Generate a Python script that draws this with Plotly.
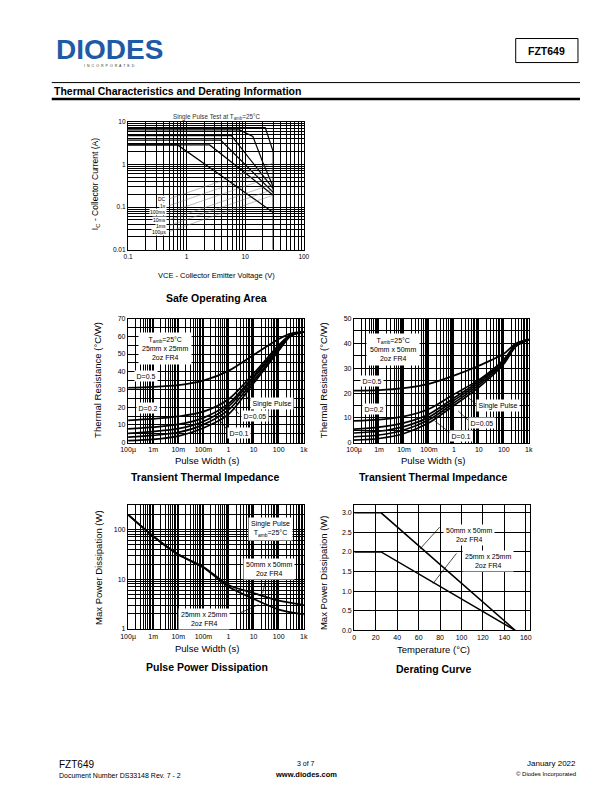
import math
import plotly.graph_objects as go

W, H = 612, 792
FONT = "Liberation Sans, Arial, Helvetica, sans-serif"

# ================= DATA =================
# Safe Operating Area (VCE in V, IC in A)
SOA_DC_V = [0.1, 0.7, 30]
SOA_DC_I = [2.85, 2.85, 0.075]
SOA_1S_V = [0.1, 2.47, 30]
SOA_1S_I = [2.85, 2.85, 0.19]
SOA_100MS_V = [0.1, 3.8, 30]
SOA_100MS_I = [3.7, 3.7, 0.22]
SOA_10MS_V = [0.1, 5.8, 30]
SOA_10MS_I = [4.7, 4.7, 0.27]
SOA_1MS_V = [0.1, 8, 13.5, 20, 30]
SOA_1MS_I = [6.4, 6.4, 4.5, 1.1, 0.3]
SOA_100US_V = [0.1, 22, 30, 30]
SOA_100US_I = [7.2, 7.2, 2.0, 0.01]
SOA_LABELS = ["DC", "1s", "100ms", "10ms", "1ms", "100µs"]
SOA_X_TICKS = [0.1, 1, 10, 100]
SOA_X_TEXT = ["0.1", "1", "10", "100"]
SOA_Y_TICKS = [0.01, 0.1, 1, 10]
SOA_Y_TEXT = ["0.01", "0.1", "1", "10"]

# Transient thermal impedance, pulse width (s)
PW = [1e-4, 1e-3, 1e-2, 1e-1, 1, 10, 100, 300, 1000]
PW_TICKS = [1e-4, 1e-3, 1e-2, 1e-1, 1, 10, 100, 1000]
PW_TEXT = ["100µ", "1m", "10m", "100m", "1", "10", "100", "1k"]
DUTY_NAMES = ["D=0.5", "D=0.2", "D=0.1", "D=0.05", "D=0.02", "Single Pulse"]

# 25mm x 25mm (°C/W)
ZTH25_D05 = [31, 31.5, 32.5, 35, 40.5, 49.5, 58.5, 61.5, 62.5]
ZTH25_D02 = [12.6, 13.4, 14.8, 17.5, 24.5, 39, 55, 61, 62.5]
ZTH25_D01 = [7.8, 8.8, 10.3, 14, 22, 37.5, 54, 60.8, 62.5]
ZTH25_D005 = [5.3, 6.3, 7.9, 12, 20.5, 36.5, 53.3, 60.6, 62.5]
ZTH25_D002 = [3.2, 4.1, 5.8, 10.2, 18.5, 35, 52.5, 60.4, 62.5]
ZTH25_SP = [1.2, 1.9, 3.7, 8.3, 16, 33.5, 51.8, 60.2, 62.5]

# 50mm x 50mm (°C/W)
ZTH50_D05 = [21, 21.2, 22, 23.7, 27, 31, 35.8, 40, 41.5]
ZTH50_D02 = [8.8, 9.3, 10.6, 13.6, 19.5, 25.3, 33.5, 39.5, 41.5]
ZTH50_D01 = [5.5, 6.3, 8.0, 11.5, 18, 24.7, 33.1, 39.3, 41.5]
ZTH50_D005 = [3.9, 4.6, 6.5, 10.3, 17, 24, 32.7, 39.1, 41.5]
ZTH50_D002 = [2.4, 3.1, 5.1, 9.2, 16, 23.2, 32.2, 38.9, 41.5]
ZTH50_SP = [1.0, 1.7, 3.7, 8.0, 15, 22.3, 31.7, 38.7, 41.5]

# Pulse power dissipation (W)
PPD_T = [1e-4, 1e-3, 1e-2, 1e-1, 1, 10, 100, 1000]
PPD_25 = [195, 72, 31, 17, 7.0, 4.0, 2.45, 1.95]
PPD_50 = [195, 72, 31, 17.5, 7.6, 5.25, 3.7, 3.05]
PPD_Y_TICKS = [1, 10, 100]
PPD_Y_TEXT = ["1", "10", "100"]

# Derating curve
DER_T = [0, 25, 150]
DER_50 = [3.0, 3.0, 0.0]
DER_25 = [2.0, 2.0, 0.0]

# ================= LAYOUT HELPERS =================
# page pixel positions (as measured on the reference) -> figure pixels,
# compensating the offset/scale seen when the page is photographed
OX, SX = 16.4, 0.973
OY, SY = 11.5, 0.990

def fx(px):
    return (px - OX) / SX

def fy(py):
    return (py - OY) / SY

def P(px, py):
    return fx(px) / W, 1 - fy(py) / H

annotations = []
shapes = []

def text(px, py, s, size=7, bold=False, xanchor="center", bg=None, angle=0,
         color="black", pad=1):
    x, y = P(px, py)
    a = dict(x=x, y=y, xref="paper", yref="paper",
             text=f"<b>{s}</b>" if bold else s, showarrow=False,
             xanchor=xanchor, yanchor="middle", textangle=angle,
             font=dict(family=FONT, size=size, color=color))
    if bg:
        a.update(bgcolor=bg, borderpad=pad)
    annotations.append(a)

def seg(px0, py0, px1, py1, width=0.8, color="black"):
    x0, y0 = P(px0, py0)
    x1, y1 = P(px1, py1)
    shapes.append(dict(type="line", xref="paper", yref="paper",
                       x0=x0, y0=y0, x1=x1, y1=y1,
                       line=dict(color=color, width=width)))

def rect(px0, py0, px1, py1, width=1):
    x0, y0 = P(px0, py1)
    x1, y1 = P(px1, py0)
    shapes.append(dict(type="rect", xref="paper", yref="paper",
                       x0=x0, y0=y0, x1=x1, y1=y1,
                       line=dict(color="black", width=width)))

def dom_x(a, b):
    return [fx(a) / W, fx(b) / W]

def dom_y(top, bottom):
    return [1 - fy(bottom) / H, 1 - fy(top) / H]

GRID = dict(showgrid=True, gridcolor="black", gridwidth=0.6,
            showline=True, mirror=True, linecolor="black", linewidth=1.4,
            ticks="", zeroline=False)

def log_axis(domain, rng, tv, tt, anchor, size=7):
    return dict(GRID, type="log", domain=domain, range=rng, tickmode="array",
                tickvals=tv, ticktext=tt, anchor=anchor,
                tickfont=dict(family=FONT, size=size),
                minor=dict(dtick="D1", showgrid=True, gridcolor="black",
                           gridwidth=0.5, ticks=""))

def lin_axis(domain, rng, dtick, anchor, minor=None, fmt=None, size=7):
    d = dict(GRID, type="linear", domain=domain, range=rng, dtick=dtick,
             tick0=0, anchor=anchor, tickfont=dict(family=FONT, size=size))
    if minor:
        d["minor"] = dict(dtick=minor, showgrid=True, gridcolor="black",
                          gridwidth=0.5, ticks="")
    if fmt:
        d["tickformat"] = fmt
    return d

fig = go.Figure()

def line(x, y, xa, ya, width=1.4, color="black", shape="linear", name=""):
    ln = dict(color=color, width=width, shape=shape)
    if shape == "spline":
        ln["smoothing"] = 0.8
    fig.add_trace(go.Scatter(x=x, y=y, xaxis=xa, yaxis=ya, mode="lines",
                             line=ln, hoverinfo="skip", name=name,
                             showlegend=False))

# ---------- Chart 1: SOA ----------
SOA_CURVES = [(SOA_DC_V, SOA_DC_I), (SOA_1S_V, SOA_1S_I),
              (SOA_100MS_V, SOA_100MS_I), (SOA_10MS_V, SOA_10MS_I),
              (SOA_1MS_V, SOA_1MS_I), (SOA_100US_V, SOA_100US_I)]
for (v, i), nm in zip(SOA_CURVES, SOA_LABELS):
    line(v, i, "x", "y", width=1.2, name=nm)

# label leaders (decorative callouts)
SOA_LABEL_PY = [198.3, 205, 211.7, 219.3, 225, 231]
SOA_LEADER_END_I = [1.07, 0.75, 0.52, 0.35, 0.26, 0.19]
for lpy, yend in zip(SOA_LABEL_PY, SOA_LEADER_END_I):
    ystart = 10 ** (1 - (lpy - 121) / 42.7)
    line([0.5, 30], [ystart, yend], "x", "y", width=0.5, color="#777777")
for lpy, lab in zip(SOA_LABEL_PY, SOA_LABELS):
    text(166.5, lpy, lab, size=5, xanchor="right", bg="white", pad=0)

# ---------- Chart 2 & 3: Transient thermal impedance ----------
Z25 = [ZTH25_D05, ZTH25_D02, ZTH25_D01, ZTH25_D005, ZTH25_D002, ZTH25_SP]
Z50 = [ZTH50_D05, ZTH50_D02, ZTH50_D01, ZTH50_D005, ZTH50_D002, ZTH50_SP]
for z, nm in zip(Z25, DUTY_NAMES):
    line(PW, z, "x2", "y2", width=1.7, shape="spline", name=nm)
for z, nm in zip(Z50, DUTY_NAMES):
    line(PW, z, "x3", "y3", width=1.7, shape="spline", name=nm)

# ---------- Chart 4: Pulse power ----------
line(PPD_T, PPD_50, "x4", "y4", width=1.8, shape="spline", name="50mm")
line(PPD_T, PPD_25, "x4", "y4", width=1.8, shape="spline", name="25mm")

# ---------- Chart 5: Derating ----------
line(DER_T, DER_50, "x5", "y5", width=1.5, name="50mm")
line(DER_T, DER_25, "x5", "y5", width=1.5, name="25mm")

# ================= AXES =================
layout_axes = dict(
    xaxis=log_axis(dom_x(128, 303), [-1, 2], SOA_X_TICKS, SOA_X_TEXT, "y", 6.5),
    yaxis=log_axis(dom_y(121, 249), [-2, 1], SOA_Y_TICKS, SOA_Y_TEXT, "x", 6.5),
    xaxis2=log_axis(dom_x(128, 303), [-4, 3], PW_TICKS, PW_TEXT, "y2"),
    yaxis2=lin_axis(dom_y(317.7, 441.7), [0, 70], 10, "x2", minor=5),
    xaxis3=log_axis(dom_x(353, 527), [-4, 3], PW_TICKS, PW_TEXT, "y3"),
    yaxis3=lin_axis(dom_y(317.7, 441.7), [0, 50], 10, "x3", minor=5),
    xaxis4=log_axis(dom_x(128, 303), [-4, 3], PW_TICKS, PW_TEXT, "y4"),
    yaxis4=log_axis(dom_y(504.3, 627.7), [0, math.log10(300)], PPD_Y_TICKS,
                    PPD_Y_TEXT, "x4"),
    xaxis5=lin_axis(dom_x(353.3, 528.3), [0, 164], 20, "y5"),
    yaxis5=lin_axis(dom_y(504.3, 629), [0, 3.19], 0.5, "x5", fmt=".1f"),
)

# ================= TEXTS =================
# header
text(110, 49, "DIODES", size=28, bold=True, color="#1d5ba6")
text(110, 65.5, "I  N  C  O  R  P  O  R  A  T  E  D", size=3.6, color="#333333")
rect(514, 38, 576, 62, width=1)
text(545, 50, "FZT649", size=10.5, bold=True)
seg(52, 82, 578, 82, width=1)
seg(52, 98.5, 578, 98.5, width=2.5)
text(52, 90, "Thermal Characteristics and Derating Information", size=10.5,
     bold=True, xanchor="left")

# chart 1 texts
text(216.5, 116, "Single Pulse Test at T<sub>amb</sub>=25°C", size=6.3, color="#333333")
text(216, 275, "VCE - Collector Emitter Voltage (V)", size=7.5)
text(95, 183.5, "I<sub>C</sub> - Collector Current (A)", size=8.5, angle=-90)
text(216, 297, "Safe Operating Area", size=10.5, bold=True)

# chart 2 texts
text(165, 347.5, "T<sub>amb</sub>=25°C<br>25mm x 25mm<br>2oz FR4", size=7, bg="white", pad=3)
text(145.5, 375.3, "D=0.5", size=7, bg="white", pad=1.5)
text(148.3, 406.7, "D=0.2", size=7, bg="white", pad=1.5)
text(271.7, 402.3, "Single Pulse", size=7, bg="white", pad=1.5)
text(254, 415, "D=0.05", size=7, bg="white", pad=1.5)
text(238, 432, "D=0.1", size=7, bg="white", pad=1.5)
seg(251.5, 400.5, 243.3, 393.7, 0.7)
seg(238.3, 413.0, 231.7, 405.3, 0.7)
seg(226.5, 428.5, 218.3, 418, 0.7)
text(206.7, 459, "Pulse Width (s)", size=9.5)
text(98, 379, "Thermal Resistance (°C/W)", size=9.5, angle=-90)
text(205, 475.7, "Transient Thermal Impedance", size=10.5, bold=True)

# chart 3 texts
text(391.7, 348.3, "T<sub>amb</sub>=25°C<br>50mm x 50mm<br>2oz FR4", size=7, bg="white", pad=3)
text(370.7, 380, "D=0.5", size=7, bg="white", pad=1.5)
text(373.3, 408.3, "D=0.2", size=7, bg="white", pad=1.5)
text(496.7, 405, "Single Pulse", size=7, bg="white", pad=1.5)
text(480, 422.3, "D=0.05", size=7, bg="white", pad=1.5)
text(460, 435, "D=0.1", size=7, bg="white", pad=1.5)
seg(475, 403.5, 466.7, 396.7, 0.7)
seg(467, 419.5, 456.7, 410, 0.7)
seg(449, 432, 433.3, 420, 0.7)
text(431.7, 459, "Pulse Width (s)", size=9.5)
text(323.3, 379, "Thermal Resistance (°C/W)", size=9.5, angle=-90)
text(431.7, 475.7, "Transient Thermal Impedance", size=10.5, bold=True)

# chart 4 texts
text(270, 528, "Single Pulse<br>T<sub>amb</sub>=25°C", size=7, bg="white", pad=2)
text(268.3, 568.3, "50mm x 50mm<br>2oz FR4", size=7, bg="white", pad=2)
text(204, 618, "25mm x 25mm<br>2oz FR4", size=7, bg="white", pad=2)
seg(265, 578.5, 262, 592, 0.7)
seg(240, 611.5, 258, 603.5, 0.7)
text(206.7, 647.7, "Pulse Width (s)", size=9.5)
text(98.3, 566.5, "Max Power Dissipation (W)", size=9.5, angle=-90)
text(206.7, 665.7, "Pulse Power Dissipation", size=10.5, bold=True)

# chart 5 texts
text(467, 534, "50mm x 50mm<br>2oz FR4", size=7, bg="white", pad=2)
text(486, 560, "25mm x 25mm<br>2oz FR4", size=7, bg="white", pad=2)
seg(438.3, 526, 418.3, 548.3, 0.7)
seg(455, 552.3, 431.7, 582.3, 0.7)
text(431.7, 648.3, "Temperature (°C)", size=9.5)
text(323.3, 571.7, "Max Power Dissipation (W)", size=9.5, angle=-90)
text(431.7, 667.7, "Derating Curve", size=10.5, bold=True)

# footer
text(57, 763, "FZT649", size=10, xanchor="left")
text(57, 774, "Document Number DS33148 Rev. 7 - 2", size=7, xanchor="left")
text(305, 762.5, "3 of 7", size=7)
text(305, 773, "www.diodes.com", size=7.5, bold=True)
text(576, 762.5, "January 2022", size=8, xanchor="right")
text(576, 772.5, "© Diodes Incorporated", size=6, xanchor="right")

fig.update_layout(
    width=W, height=H, margin=dict(l=0, r=0, t=0, b=0),
    paper_bgcolor="white", plot_bgcolor="white",
    font=dict(family=FONT, color="black"),
    showlegend=False,
    annotations=annotations, shapes=shapes,
    **layout_axes,
)

fig.write_html("out.html")
